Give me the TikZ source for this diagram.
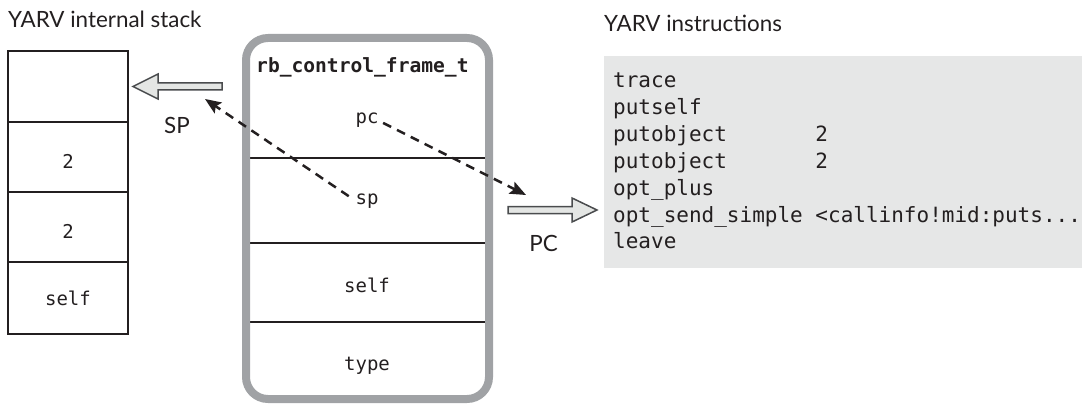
\documentclass[tikz,border=0pt]{standalone}
\usepackage{fontspec}
\setsansfont{Lato}
\setmonofont{DejaVu Sans Mono}
\usetikzlibrary{arrows.meta}
\definecolor{ink}{HTML}{231F20}
\definecolor{framegray}{HTML}{A0A2A5}
\definecolor{codebg}{HTML}{E6E7E7}
\definecolor{arrowfill}{HTML}{E4E6E4}
\definecolor{arrowline}{HTML}{4A4C4E}
\begin{document}
\begin{tikzpicture}[x=1pt,y=-1pt,
  sanslabel/.style={font=\sffamily\fontsize{22.4}{26}\selectfont, text=ink, inner sep=0pt},
  monolabel/.style={font=\ttfamily\fontsize{19}{23}\selectfont, text=ink, inner sep=0pt, anchor=base},
  codeline/.style={font=\ttfamily\fontsize{21}{27}\selectfont, text=ink, inner sep=0pt, anchor=base west},
  cell/.style={draw=ink, line width=2.2pt, minimum width=120pt, inner sep=0pt},
  divider/.style={draw=ink, line width=2.2pt},
  hollow/.style={fill=arrowfill, draw=arrowline, line width=1.5pt, line join=miter},
  ptr/.style={draw=ink, line width=2.5pt, dash pattern=on 9pt off 6.5pt, -{Stealth[length=16pt,width=13pt,inset=3pt]}},
]
\useasboundingbox (0,0) rectangle (1082,404);

% titles
\node[sanslabel, anchor=base west] (stacktitle) at (8,27.5) {YARV internal stack};
\node[sanslabel, anchor=base west] (instrtitle) at (604,32) {YARV instructions};

% stack cells
\node[cell, minimum height=71pt] (s0) at (68,86.5) {};
\node[cell, minimum height=70pt] (s1) at (68,157) {};
\node[cell, minimum height=70pt] (s2) at (68,227) {};
\node[cell, minimum height=72pt] (s3) at (68,298) {};
\node[monolabel] (v1) at (68,168) {2};
\node[monolabel] (v2) at (68,238) {2};
\node[monolabel] (v3) at (68,305) {self};

% control frame
\coordinate (fl1) at (246,158); \coordinate (fr1) at (489,158);
\coordinate (fl2) at (246,243); \coordinate (fr2) at (489,243);
\coordinate (fl3) at (246,322); \coordinate (fr3) at (489,322);
\draw[divider] (fl1) -- (fr1);
\draw[divider] (fl2) -- (fr2);
\draw[divider] (fl3) -- (fr3);
\node[draw=framegray, line width=8pt, rounded corners=22pt, minimum width=243pt, minimum height=361pt, inner sep=0pt] (frame) at (367.5,218.5) {};
\node[font=\ttfamily\bfseries\fontsize{19.6}{23}\selectfont, text=ink, inner sep=0pt, anchor=base west] (ftitle) at (256,72.5) {rb\_control\_frame\_t};
\node[monolabel] (pc) at (367,124) {pc};
\node[monolabel] (sp) at (367,204) {sp};
\node[monolabel] (fself) at (367,292) {self};
\node[monolabel] (ftype) at (367,370) {type};

% instructions
\node[fill=codebg, minimum width=478pt, minimum height=212pt, inner sep=0pt, anchor=north west] (code) at (604,56) {};
\node[codeline] (i1) at (613,88) {trace};
\node[codeline] (i2) at (613,114.8) {putself};
\node[codeline] (i3) at (613,141.6) {putobject\phantom{0000000}2};
\node[codeline] (i4) at (613,168.4) {putobject\phantom{0000000}2};
\node[codeline] (i5) at (613,195.2) {opt\_plus};
\node[codeline] (i6) at (613,222) {opt\_send\_simple\phantom{0}<callinfo!mid:puts...};
\node[codeline] (i7) at (613,248.8) {leave};

% hollow arrows
\coordinate (spA) at (222,86.5);
\draw[hollow] (spA) +(0,-3.5) -- +(-64,-3.5) -- +(-64,-12.5) -- +(-89,0) -- +(-64,12.5) -- +(-64,3.5) -- +(0,3.5) -- cycle;
\node[sanslabel, anchor=base] (splabel) at (177,133) {SP};
\coordinate (pcA) at (508,210);
\draw[hollow] (pcA) +(0,-3.5) -- +(64,-3.5) -- +(64,-12) -- +(89,0) -- +(64,12) -- +(64,3.5) -- +(0,3.5) -- cycle;
\node[sanslabel, anchor=base] (pclabel) at (543.5,251) {PC};

% dashed pointers
\coordinate (spTip) at (205,99);
\coordinate (pcTip) at (526,195);
\draw[ptr, shorten <=8pt] (sp.west) -- (spTip);
\draw[ptr, shorten <=5pt] (pc.east) -- (pcTip);
\end{tikzpicture}
\end{document}
